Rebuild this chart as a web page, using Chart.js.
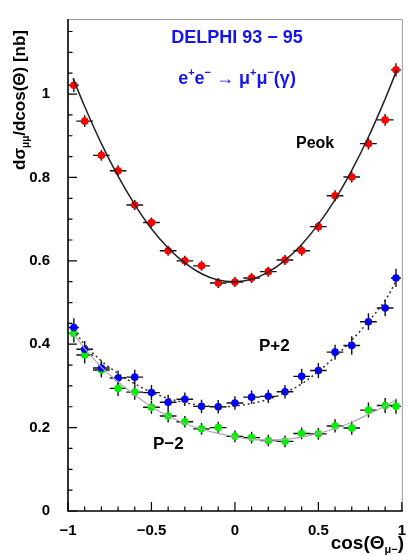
<!DOCTYPE html>
<html>
<head>
<meta charset="utf-8">
<script src="https://cdn.jsdelivr.net/npm/chart.js@4.4.0/dist/chart.umd.min.js"></script>
<style>
  html, body { margin: 0; padding: 0; background: #fff; }
</style>
</head>
<body>
<canvas id="muChart" width="409" height="555"></canvas>
<script>
// measured points: cos(theta) bins
const cosBins = [-0.965, -0.9, -0.8, -0.7, -0.6, -0.5, -0.4, -0.3, -0.2, -0.1, 0,
                 0.1, 0.2, 0.3, 0.4, 0.5, 0.6, 0.7, 0.8, 0.9, 0.965];
const binHalfWidth = [0.03, 0.05, 0.05, 0.05, 0.05, 0.05, 0.05, 0.05, 0.05, 0.05, 0.05,
                      0.05, 0.05, 0.05, 0.05, 0.05, 0.05, 0.05, 0.05, 0.05, 0.03];

// Peak
const peakVals = [1.021, 0.935, 0.853, 0.816, 0.734, 0.692, 0.624, 0.600, 0.588, 0.547, 0.549,
                  0.559, 0.574, 0.602, 0.624, 0.682, 0.756, 0.801, 0.881, 0.938, 1.058];
const peakErr  = [0.016, 0.014, 0.013, 0.013, 0.012, 0.012, 0.012, 0.012, 0.012, 0.012, 0.012,
                  0.012, 0.012, 0.012, 0.012, 0.012, 0.013, 0.013, 0.014, 0.014, 0.016];
// P+2
const p2Vals = [0.440, 0.388, 0.343, 0.319, 0.321, 0.284, 0.261, 0.268, 0.251, 0.250, 0.259,
                0.273, 0.275, 0.286, 0.323, 0.337, 0.381, 0.397, 0.454, 0.487, 0.559];
const p2Err  = [0.022, 0.020, 0.018, 0.018, 0.018, 0.018, 0.018, 0.016, 0.016, 0.016, 0.016,
                0.016, 0.016, 0.016, 0.018, 0.018, 0.018, 0.022, 0.020, 0.020, 0.022];
// P-2
const m2Vals = [0.426, 0.374, 0.338, 0.294, 0.285, 0.249, 0.228, 0.214, 0.197, 0.200, 0.179,
                0.176, 0.169, 0.167, 0.186, 0.185, 0.204, 0.199, 0.242, 0.253, 0.251];
const m2Err  = [0.022, 0.020, 0.018, 0.018, 0.018, 0.016, 0.016, 0.014, 0.014, 0.014, 0.014,
                0.014, 0.014, 0.014, 0.014, 0.014, 0.016, 0.016, 0.018, 0.018, 0.018];

// fit curves
const fitX = [-0.97, -0.9, -0.8, -0.7, -0.6, -0.5, -0.4, -0.3, -0.2, -0.1, 0,
              0.1, 0.2, 0.3, 0.4, 0.5, 0.6, 0.7, 0.8, 0.9, 0.97];
const peakFit = [1.038, 0.970, 0.881, 0.803, 0.735, 0.677, 0.631, 0.595, 0.569, 0.554, 0.550,
                 0.556, 0.573, 0.601, 0.639, 0.688, 0.747, 0.817, 0.897, 0.988, 1.058];
const p2Fit = [0.435, 0.400, 0.360, 0.330, 0.305, 0.285, 0.270, 0.260, 0.253, 0.250, 0.252,
               0.258, 0.268, 0.284, 0.305, 0.335, 0.370, 0.410, 0.455, 0.505, 0.555];
const m2Fit = [0.427, 0.390, 0.345, 0.310, 0.278, 0.250, 0.228, 0.210, 0.196, 0.186, 0.178,
               0.172, 0.170, 0.172, 0.177, 0.186, 0.198, 0.213, 0.232, 0.252, 0.268];

const xTicks = [-1, -0.5, 0, 0.5, 1];
const yTicks = [0, 0.2, 0.4, 0.6, 0.8, 1];

const FONT = '"Liberation Sans", Arial, Helvetica, sans-serif';

function pts(xs, ys) { return xs.map((x, i) => ({ x: x, y: ys[i] })); }

// draws text made of pieces with different sizes / offsets
function richText(ctx, parts, x, y, align) {
  let total = 0;
  parts.forEach(p => {
    ctx.font = 'bold ' + p.size + 'px ' + FONT;
    p.w = ctx.measureText(p.t).width;
    total += p.w;
  });
  let cx = align === 'center' ? x - total / 2 : (align === 'right' ? x - total : x);
  parts.forEach(p => {
    ctx.font = 'bold ' + p.size + 'px ' + FONT;
    ctx.fillText(p.t, cx, y + (p.dy || 0));
    cx += p.w;
  });
}

const errorBars = {
  id: 'errorBars',
  beforeDatasetsDraw(chart) {
    const ctx = chart.ctx, xs = chart.scales.x, ys = chart.scales.y;
    ctx.save();
    ctx.strokeStyle = '#111';
    ctx.lineWidth = 1.4;
    chart.data.datasets.forEach((ds, i) => {
      if (!ds.errY) return;
      ds.data.forEach((p, j) => {
        const px = xs.getPixelForValue(p.x), py = ys.getPixelForValue(p.y);
        const x0 = xs.getPixelForValue(p.x - binHalfWidth[j]);
        const x1 = xs.getPixelForValue(p.x + binHalfWidth[j]);
        const y0 = ys.getPixelForValue(p.y - ds.errY[j]);
        const y1 = ys.getPixelForValue(p.y + ds.errY[j]);
        ctx.beginPath();
        ctx.moveTo(x0, py); ctx.lineTo(x1, py);
        ctx.moveTo(px, y0); ctx.lineTo(px, y1);
        ctx.stroke();
      });
    });
    ctx.restore();
  }
};

const frameAndText = {
  id: 'frameAndText',
  afterDraw(chart) {
    const ctx = chart.ctx, a = chart.chartArea;
    const xs = chart.scales.x, ys = chart.scales.y;
    ctx.save();
    // frame
    ctx.strokeStyle = '#999';
    ctx.lineWidth = 1;
    ctx.beginPath();
    ctx.moveTo(a.left, a.top + 0.5); ctx.lineTo(a.right + 0.5, a.top + 0.5);
    ctx.lineTo(a.right + 0.5, a.bottom);
    ctx.stroke();
    ctx.strokeStyle = '#000';
    ctx.lineWidth = 1.6;
    ctx.beginPath();
    ctx.moveTo(a.left, a.top); ctx.lineTo(a.left, a.bottom); ctx.lineTo(a.right + 1, a.bottom);
    ctx.stroke();
    // ticks inside the frame
    ctx.lineWidth = 1.2;
    ctx.beginPath();
    for (let i = 0; i <= 23; i++) {
      const v = i * 0.05;
      const py = ys.getPixelForValue(v);
      const len = (i % 4 === 0) ? 9 : 4.5;
      ctx.moveTo(a.left, py); ctx.lineTo(a.left + len, py);
    }
    for (let i = -10; i <= 10; i++) {
      const v = i * 0.1;
      const px = xs.getPixelForValue(v);
      const len = (i % 5 === 0) ? 9 : 4.5;
      ctx.moveTo(px, a.bottom); ctx.lineTo(px, a.bottom - len);
    }
    ctx.stroke();

    ctx.fillStyle = '#1515f0';
    ctx.textBaseline = 'alphabetic';
    richText(ctx, [{ t: 'DELPHI 93 \u2212 95', size: 18 }], 237, 43, 'center');
    richText(ctx, [
      { t: 'e', size: 18 }, { t: '+', size: 11, dy: -8 },
      { t: 'e', size: 18 }, { t: '\u2212', size: 11, dy: -8 },
      { t: ' \u2192 ', size: 18 },
      { t: '\u03bc', size: 18 }, { t: '+', size: 11, dy: -8 },
      { t: '\u03bc', size: 18 }, { t: '\u2212', size: 11, dy: -8 },
      { t: '(\u03b3)', size: 18 }
    ], 237, 84, 'center');

    ctx.fillStyle = '#000';
    richText(ctx, [{ t: 'Peok', size: 16 }], 296, 148, 'left');
    richText(ctx, [{ t: 'P+2', size: 17 }], 259, 351, 'left');
    richText(ctx, [{ t: 'P\u22122', size: 17 }], 153, 449, 'left');

    // x title
    richText(ctx, [
      { t: 'cos(\u0398', size: 19 }, { t: '\u03bc\u2212', size: 11, dy: 4 }, { t: ')', size: 19 }
    ], 404, 549, 'right');

    // y title
    ctx.translate(25, 170);
    ctx.rotate(-Math.PI / 2);
    richText(ctx, [
      { t: 'd\u03c3', size: 17 }, { t: '\u03bc\u03bc', size: 10, dy: 4 },
      { t: '/dcos(\u0398) [nb]', size: 17 }
    ], 0, 0, 'left');
    ctx.restore();
  }
};

const ctx = document.getElementById('muChart').getContext('2d');
new Chart(ctx, {
  type: 'scatter',
  data: {
    datasets: [
      { type: 'line', data: pts(fitX, peakFit), borderColor: '#222', borderWidth: 1.5,
        pointRadius: 0, tension: 0.4, fill: false },
      { type: 'line', data: pts(fitX, p2Fit), borderColor: '#333', borderWidth: 1.5,
        borderDash: [2, 3], pointRadius: 0, tension: 0.4, fill: false },
      { type: 'line', data: pts(fitX, m2Fit), borderColor: '#aaa', borderWidth: 1.2,
        pointRadius: 0, tension: 0.4, fill: false },
      { data: pts(cosBins, peakVals), errY: peakErr, backgroundColor: '#ff0000',
        borderWidth: 0, pointRadius: 3.8 },
      { data: pts(cosBins, p2Vals), errY: p2Err, backgroundColor: '#0000ff',
        borderWidth: 0, pointRadius: 3.8 },
      { data: pts(cosBins, m2Vals), errY: m2Err, backgroundColor: '#00ee00',
        borderWidth: 0, pointRadius: 3.8 }
    ]
  },
  options: {
    responsive: false,
    animation: false,
    devicePixelRatio: 1,
    layout: { padding: { top: 7, right: 5, left: 0, bottom: 0 } },
    plugins: { legend: { display: false }, tooltip: { enabled: false } },
    scales: {
      x: {
        type: 'linear', min: -1, max: 1,
        afterBuildTicks: s => { s.ticks = xTicks.map(v => ({ value: v })); },
        afterFit: s => { s.height = 44; },
        grid: { display: false }, border: { display: false },
        ticks: {
          color: '#000', padding: 3, maxRotation: 0, autoSkip: false,
          font: { family: FONT, size: 15, weight: 'bold' },
          callback: v => String(v).replace('-', '\u2212')
        }
      },
      y: {
        type: 'linear', min: 0, max: 1.18,
        afterBuildTicks: s => { s.ticks = yTicks.map(v => ({ value: v })); },
        afterFit: s => { s.width = 68; },
        grid: { display: false }, border: { display: false },
        ticks: {
          color: '#000', padding: 10, autoSkip: false,
          font: { family: FONT, size: 15, weight: 'bold' },
          callback: v => String(v)
        }
      }
    }
  },
  plugins: [errorBars, frameAndText]
});
</script>
</body>
</html>
